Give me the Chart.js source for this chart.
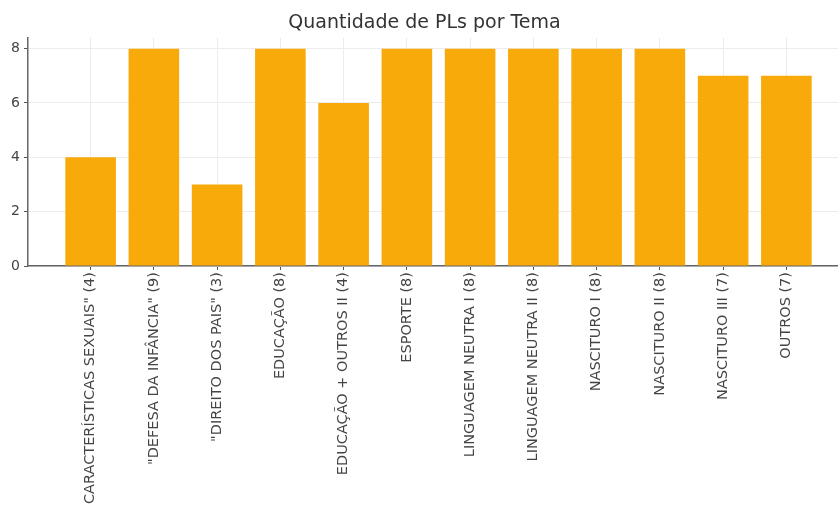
<!DOCTYPE html>
<html>
<head>
<meta charset="utf-8">
<script src="https://cdn.jsdelivr.net/npm/chart.js@4/dist/chart.umd.min.js"></script>
<style>
  html, body { margin: 0; padding: 0; background: #fff; overflow: hidden; }
  #wrap { width: 838px; height: 505px; overflow: hidden; }
</style>
</head>
<body>
<div id="wrap"><canvas id="chart" width="877" height="505"></canvas></div>
<script>
// Quantidade de PLs por Tema – bar chart
const categories = [
  '"CARACTERÍSTICAS SEXUAIS" (4)',
  '"DEFESA DA INFÂNCIA" (9)',
  '"DIREITO DOS PAIS" (3)',
  'EDUCAÇÃO (8)',
  'EDUCAÇÃO + OUTROS II (4)',
  'ESPORTE (8)',
  'LINGUAGEM NEUTRA I (8)',
  'LINGUAGEM NEUTRA II (8)',
  'NASCITURO I (8)',
  'NASCITURO II (8)',
  'NASCITURO III (7)',
  'OUTROS (7)',
];
const counts = [4, 8, 3, 8, 6, 8, 8, 8, 8, 8, 7, 7];
const yTicks = [0, 2, 4, 6, 8];

const font = 'DejaVu Sans';
const ctx = document.getElementById('chart').getContext('2d');

new Chart(ctx, {
  type: 'bar',
  data: {
    datasets: [
      {
        data: counts.map((v, i) => ({ x: i, y: v })),
        backgroundColor: '#F9AA0B',
        borderWidth: 0,
        barPercentage: 0.8,
        categoryPercentage: 1.0,
      },
    ],
  },
  options: {
    responsive: false,
    animation: false,
    layout: { padding: { left: 0, right: 28, top: 0, bottom: 0 } },
    plugins: {
      legend: { display: false },
      tooltip: { enabled: false },
      title: {
        display: true,
        text: 'Quantidade de PLs por Tema',
        color: '#333',
        font: { family: font, size: 19, weight: 'normal' },
        padding: { top: 12, bottom: 3 },
      },
    },
    scales: {
      x: {
        type: 'linear',
        offset: false,
        min: -0.99,
        max: 11.99,
        afterBuildTicks: (scale) => {
          scale.ticks = categories.map((_, i) => ({ value: i }));
        },
        afterFit: (scale) => {
          scale.height = 239;
        },
        ticks: {
          autoSkip: false,
          minRotation: 90,
          maxRotation: 90,
          padding: 2,
          color: '#444',
          font: { family: font, size: 14.5 },
          callback: (value) => categories[value],
        },
        grid: {
          offset: false,
          color: '#ececec',
          tickColor: '#555',
          tickLength: 4,
        },
        border: { color: '#666', width: 1.5 },
      },
      y: {
        min: 0,
        max: 8.4,
        afterBuildTicks: (scale) => {
          scale.ticks = yTicks.map((v) => ({ value: v }));
        },
        afterFit: (scale) => {
          scale.width = 28;
        },
        ticks: {
          padding: 4,
          color: '#444',
          font: { family: font, size: 14 },
        },
        grid: {
          color: '#ececec',
          tickColor: '#555',
          tickLength: 4,
        },
        border: { color: '#666', width: 1.5 },
      },
    },
  },
});
</script>
</body>
</html>
